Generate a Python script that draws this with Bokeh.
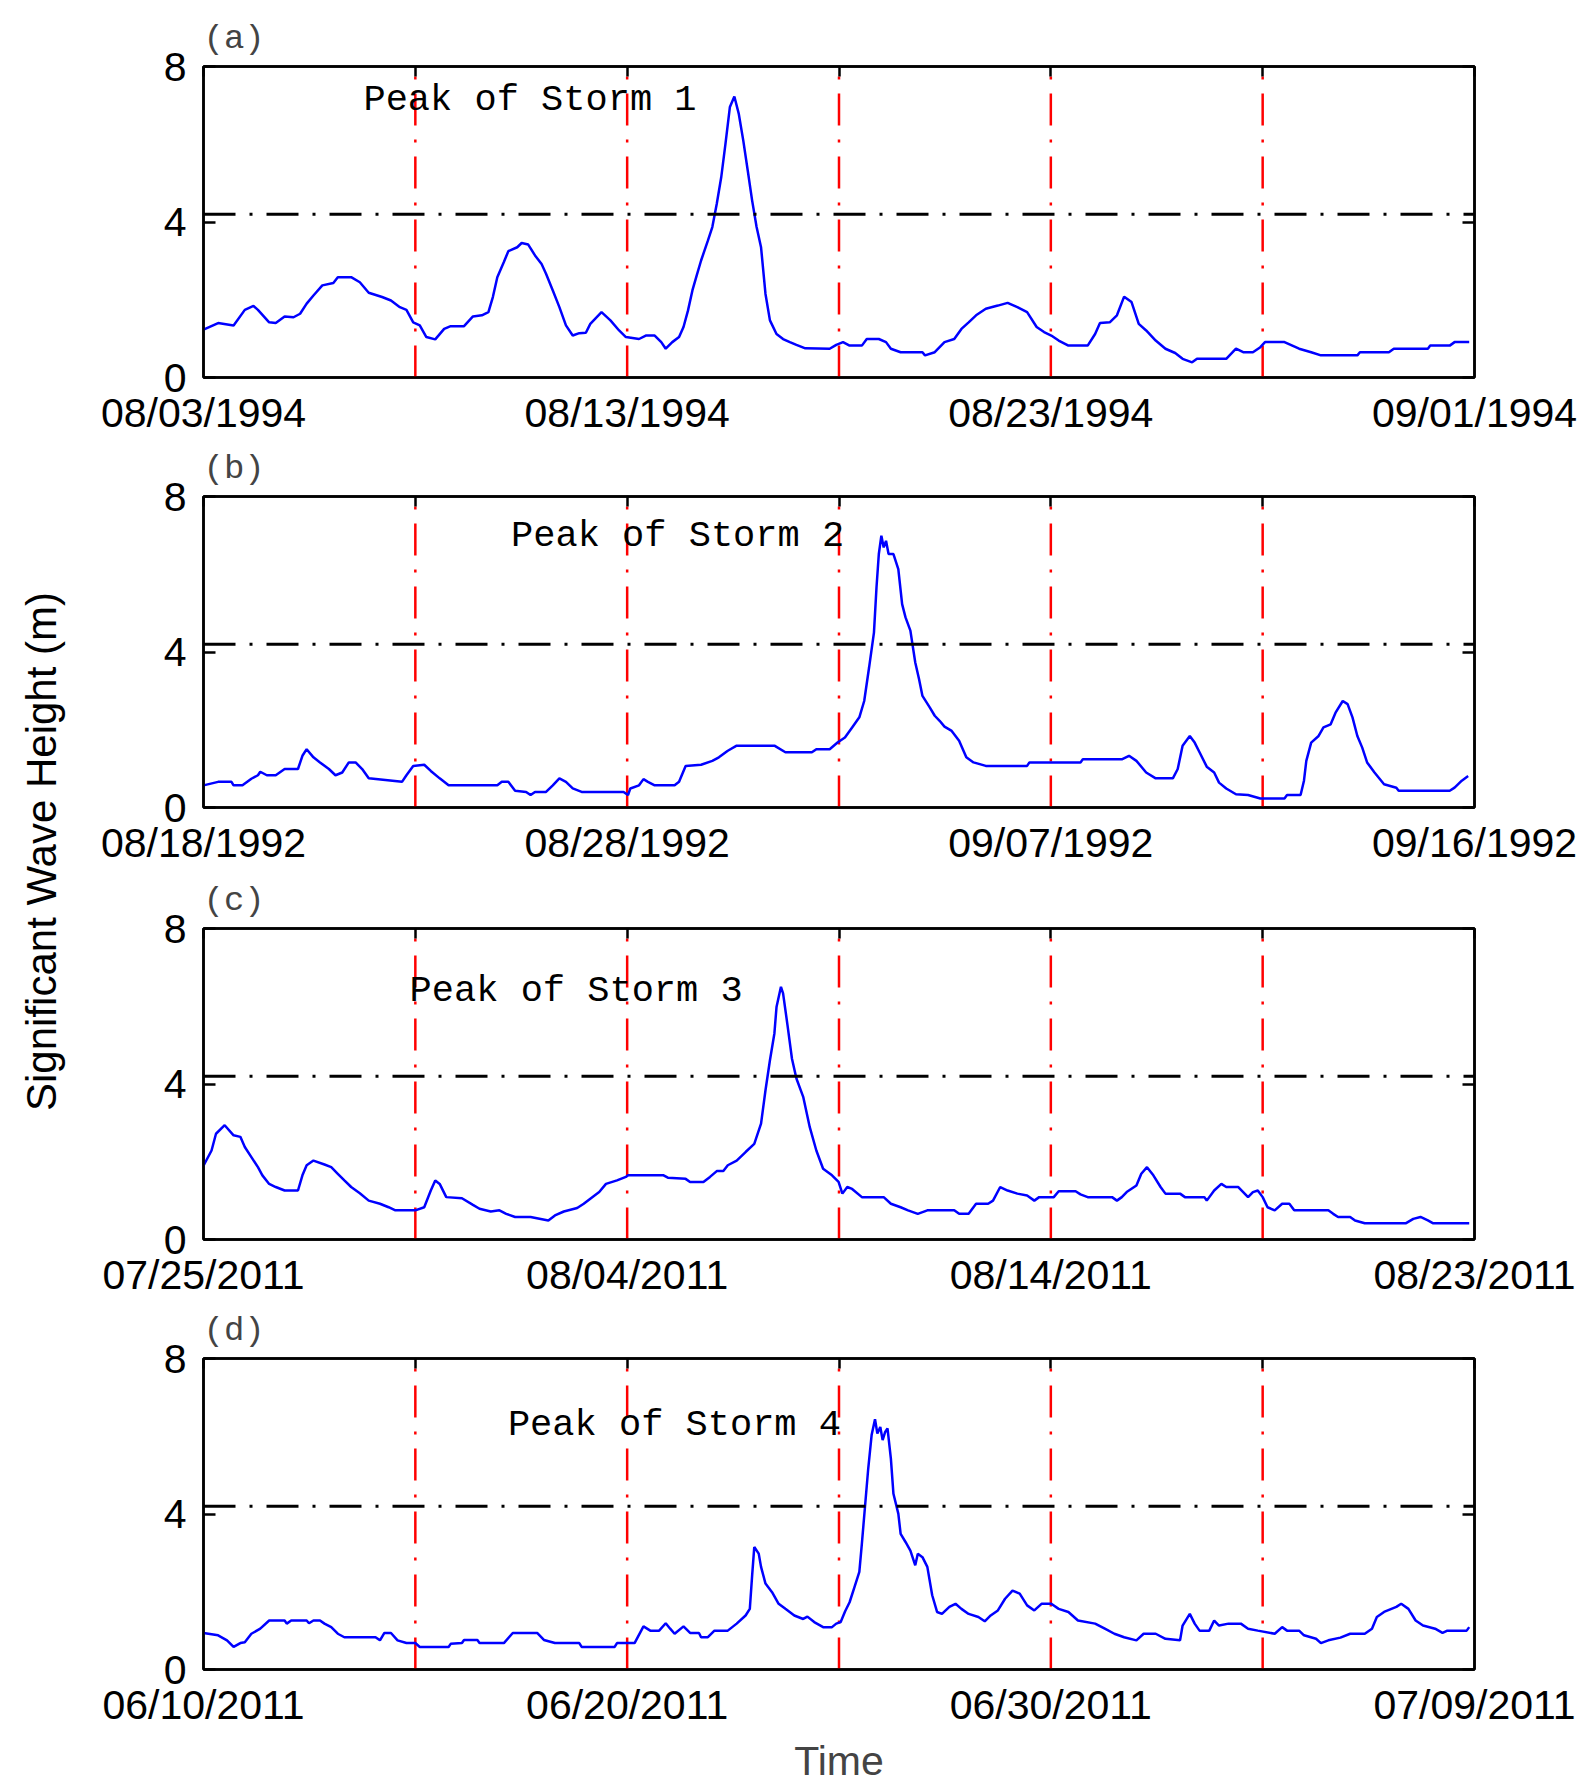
import math
from bokeh.plotting import figure
from bokeh.models import Range1d, LinearAxis, FixedTicker, Span, Label
from bokeh.layouts import row, column
from bokeh.embed import file_html
from bokeh.resources import INLINE

# ---------------- data (time in units of the 6 equal grid intervals of each window) ----------------
t_a = [0.000,0.069,0.142,0.195,0.236,0.257,0.310,0.341,0.383,0.425,0.456,0.487,0.519,0.561,0.613,0.634,0.697,0.738,0.780,0.843,0.885,0.927,0.958,0.990,1.021,1.052,1.094,1.136,1.167,1.230,1.272,1.314,1.345,1.366,1.387,1.418,1.439,1.481,1.502,1.533,1.565,1.596,1.617,1.649,1.680,1.711,1.743,1.774,1.805,1.826,1.879,1.921,1.962,1.994,2.056,2.088,2.130,2.161,2.182,2.213,2.245,2.266,2.287,2.308,2.328,2.349,2.381,2.402,2.423,2.444,2.464,2.485,2.506,2.527,2.548,2.569,2.590,2.611,2.632,2.653,2.674,2.705,2.736,2.768,2.799,2.841,2.956,2.987,3.019,3.050,3.108,3.131,3.188,3.222,3.245,3.291,3.394,3.406,3.452,3.498,3.544,3.578,3.612,3.647,3.693,3.750,3.796,3.842,3.888,3.933,3.968,4.002,4.037,4.083,4.174,4.209,4.232,4.278,4.312,4.346,4.381,4.415,4.450,4.495,4.541,4.587,4.622,4.667,4.690,4.828,4.874,4.908,4.954,4.989,5.011,5.103,5.172,5.229,5.275,5.447,5.459,5.596,5.619,5.780,5.791,5.883,5.906,5.975]
hs_a = [1.23,1.40,1.34,1.74,1.84,1.74,1.42,1.40,1.57,1.55,1.64,1.90,2.11,2.37,2.43,2.58,2.58,2.45,2.18,2.07,1.98,1.81,1.74,1.42,1.34,1.04,0.98,1.25,1.32,1.32,1.57,1.60,1.68,2.07,2.58,2.97,3.25,3.35,3.46,3.42,3.14,2.92,2.67,2.24,1.81,1.34,1.08,1.14,1.15,1.38,1.68,1.47,1.21,1.04,0.99,1.08,1.08,0.91,0.74,0.91,1.04,1.30,1.72,2.24,2.62,3.01,3.52,3.87,4.47,5.15,6.01,6.96,7.23,6.78,6.10,5.33,4.55,3.87,3.35,2.15,1.47,1.12,0.99,0.91,0.84,0.75,0.74,0.84,0.91,0.82,0.82,0.99,0.99,0.91,0.74,0.65,0.65,0.57,0.65,0.91,0.99,1.25,1.42,1.60,1.77,1.85,1.92,1.81,1.68,1.30,1.17,1.08,0.95,0.82,0.82,1.12,1.40,1.42,1.60,2.08,1.94,1.38,1.21,0.95,0.74,0.63,0.48,0.39,0.48,0.48,0.74,0.65,0.65,0.78,0.91,0.91,0.74,0.65,0.57,0.57,0.65,0.65,0.74,0.74,0.82,0.82,0.91,0.91]

t_b = [0.000,0.069,0.132,0.142,0.184,0.226,0.257,0.268,0.299,0.341,0.383,0.446,0.467,0.487,0.519,0.550,0.592,0.623,0.655,0.686,0.718,0.749,0.780,0.937,0.958,0.990,1.042,1.073,1.115,1.157,1.387,1.408,1.439,1.471,1.523,1.544,1.565,1.617,1.649,1.680,1.711,1.743,1.785,1.983,2.004,2.015,2.056,2.077,2.098,2.130,2.224,2.245,2.276,2.349,2.402,2.433,2.475,2.517,2.695,2.747,2.872,2.893,2.956,2.993,3.028,3.062,3.096,3.119,3.142,3.165,3.177,3.188,3.200,3.211,3.222,3.234,3.257,3.280,3.298,3.314,3.337,3.360,3.378,3.394,3.429,3.452,3.475,3.498,3.532,3.567,3.601,3.635,3.693,3.888,3.899,4.140,4.151,4.335,4.369,4.404,4.450,4.495,4.576,4.599,4.622,4.656,4.679,4.702,4.736,4.771,4.794,4.828,4.874,4.931,4.989,5.103,5.115,5.179,5.195,5.206,5.229,5.264,5.287,5.321,5.344,5.378,5.401,5.424,5.447,5.470,5.493,5.528,5.573,5.631,5.642,5.883,5.906,5.940,5.970]
hs_b = [0.57,0.66,0.66,0.57,0.57,0.74,0.83,0.92,0.83,0.83,0.99,0.99,1.33,1.50,1.29,1.16,0.99,0.83,0.90,1.16,1.16,0.99,0.75,0.66,0.83,1.07,1.10,0.94,0.75,0.57,0.57,0.66,0.66,0.43,0.40,0.32,0.40,0.40,0.57,0.75,0.66,0.49,0.40,0.40,0.32,0.49,0.57,0.73,0.66,0.57,0.57,0.66,1.07,1.10,1.20,1.29,1.46,1.59,1.59,1.42,1.42,1.50,1.50,1.67,1.80,2.06,2.32,2.74,3.60,4.50,5.66,6.52,6.99,6.69,6.86,6.52,6.52,6.13,5.23,4.89,4.55,3.73,3.30,2.87,2.57,2.36,2.23,2.08,1.97,1.72,1.29,1.16,1.07,1.07,1.16,1.16,1.24,1.24,1.33,1.20,0.90,0.75,0.75,0.99,1.59,1.84,1.67,1.42,1.05,0.90,0.64,0.49,0.34,0.32,0.23,0.23,0.32,0.32,0.69,1.20,1.67,1.84,2.06,2.14,2.44,2.74,2.66,2.32,1.84,1.54,1.16,0.90,0.60,0.51,0.43,0.43,0.51,0.69,0.81]

t_c = [0.000,0.038,0.059,0.100,0.142,0.174,0.195,0.226,0.257,0.278,0.310,0.341,0.383,0.446,0.467,0.487,0.519,0.571,0.603,0.634,0.665,0.697,0.738,0.780,0.833,0.874,0.906,1.000,1.042,1.073,1.094,1.115,1.146,1.220,1.272,1.303,1.356,1.397,1.429,1.471,1.544,1.628,1.659,1.701,1.764,1.795,1.826,1.868,1.900,1.952,1.994,2.004,2.172,2.192,2.276,2.297,2.360,2.391,2.423,2.454,2.475,2.517,2.559,2.600,2.632,2.653,2.674,2.695,2.705,2.726,2.736,2.757,2.778,2.799,2.831,2.862,2.893,2.925,2.967,2.998,3.016,3.039,3.062,3.108,3.211,3.245,3.291,3.326,3.372,3.417,3.544,3.567,3.612,3.647,3.704,3.727,3.761,3.796,3.842,3.888,3.922,3.945,4.014,4.037,4.117,4.140,4.174,4.289,4.312,4.335,4.358,4.404,4.427,4.454,4.484,4.518,4.541,4.610,4.633,4.725,4.736,4.771,4.805,4.828,4.885,4.908,4.931,4.954,4.977,5.000,5.023,5.057,5.092,5.126,5.149,5.310,5.333,5.356,5.413,5.436,5.482,5.677,5.711,5.745,5.780,5.803,5.975]
hs_c = [1.90,2.29,2.72,2.94,2.68,2.64,2.38,2.12,1.86,1.65,1.43,1.35,1.26,1.26,1.65,1.91,2.03,1.93,1.86,1.69,1.52,1.35,1.19,1.00,0.92,0.83,0.75,0.75,0.83,1.26,1.52,1.43,1.09,1.06,0.89,0.79,0.72,0.75,0.66,0.58,0.58,0.49,0.62,0.72,0.81,0.92,1.05,1.22,1.43,1.52,1.61,1.65,1.65,1.59,1.56,1.48,1.48,1.61,1.76,1.76,1.91,2.03,2.25,2.46,2.98,3.84,4.61,5.30,5.98,6.50,6.33,5.51,4.65,4.14,3.67,2.89,2.29,1.82,1.65,1.48,1.18,1.35,1.30,1.09,1.09,0.92,0.83,0.75,0.66,0.75,0.75,0.66,0.66,0.92,0.92,1.00,1.35,1.26,1.18,1.13,1.00,1.09,1.09,1.24,1.24,1.16,1.09,1.09,1.00,1.09,1.22,1.39,1.69,1.86,1.65,1.35,1.18,1.18,1.09,1.09,1.00,1.26,1.43,1.35,1.35,1.22,1.09,1.22,1.26,1.09,0.83,0.75,0.92,0.92,0.75,0.75,0.66,0.58,0.58,0.49,0.42,0.42,0.53,0.58,0.49,0.42,0.42]

t_d = [0.000,0.069,0.111,0.142,0.174,0.195,0.226,0.268,0.310,0.383,0.393,0.414,0.487,0.498,0.519,0.550,0.571,0.603,0.634,0.665,0.812,0.833,0.854,0.885,0.916,0.958,1.000,1.021,1.157,1.167,1.220,1.230,1.293,1.303,1.418,1.460,1.575,1.607,1.659,1.774,1.785,1.941,1.952,2.035,2.077,2.109,2.151,2.182,2.203,2.224,2.266,2.297,2.339,2.349,2.381,2.412,2.475,2.517,2.559,2.579,2.590,2.600,2.621,2.632,2.653,2.684,2.715,2.747,2.789,2.831,2.851,2.883,2.925,2.967,2.987,3.008,3.029,3.050,3.073,3.096,3.108,3.124,3.138,3.154,3.170,3.181,3.195,3.206,3.218,3.229,3.245,3.257,3.280,3.291,3.314,3.337,3.360,3.372,3.394,3.417,3.440,3.463,3.486,3.521,3.550,3.578,3.612,3.658,3.688,3.716,3.750,3.784,3.819,3.853,3.888,3.922,3.956,4.002,4.037,4.083,4.128,4.209,4.255,4.300,4.346,4.404,4.438,4.495,4.541,4.610,4.622,4.656,4.679,4.702,4.748,4.771,4.794,4.839,4.897,4.931,4.977,5.057,5.092,5.115,5.172,5.195,5.252,5.275,5.310,5.367,5.413,5.482,5.516,5.539,5.573,5.631,5.654,5.688,5.722,5.757,5.814,5.849,5.872,5.963,5.975]
hs_d = [0.94,0.88,0.75,0.58,0.68,0.70,0.92,1.05,1.26,1.26,1.18,1.26,1.26,1.19,1.26,1.26,1.18,1.09,0.92,0.83,0.83,0.75,0.94,0.94,0.75,0.68,0.68,0.58,0.58,0.66,0.68,0.76,0.76,0.68,0.68,0.94,0.94,0.76,0.68,0.68,0.58,0.58,0.68,0.68,1.11,1.00,1.00,1.19,1.05,0.92,1.11,0.94,0.94,0.83,0.83,1.00,1.00,1.18,1.39,1.56,2.42,3.15,2.98,2.64,2.21,1.99,1.69,1.56,1.39,1.30,1.36,1.22,1.09,1.09,1.18,1.22,1.50,1.73,2.12,2.51,3.24,4.27,5.17,6.03,6.44,6.07,6.24,5.90,6.11,6.20,5.42,4.52,4.01,3.49,3.28,3.06,2.68,2.98,2.89,2.64,1.91,1.48,1.43,1.61,1.69,1.56,1.43,1.35,1.24,1.39,1.52,1.82,2.03,1.95,1.65,1.52,1.69,1.69,1.56,1.48,1.26,1.18,1.05,0.92,0.83,0.75,0.92,0.92,0.79,0.75,1.13,1.43,1.18,1.00,1.00,1.26,1.13,1.18,1.18,1.05,1.00,0.92,1.09,1.00,1.00,0.88,0.79,0.68,0.75,0.82,0.92,0.92,1.05,1.35,1.48,1.61,1.69,1.56,1.26,1.13,1.05,0.94,1.00,1.00,1.09]

dates_a = ["08/03/1994", "08/13/1994", "08/23/1994", "09/01/1994"]
dates_b = ["08/18/1992", "08/28/1992", "09/07/1992", "09/16/1992"]
dates_c = ["07/25/2011", "08/04/2011", "08/14/2011", "08/23/2011"]
dates_d = ["06/10/2011", "06/20/2011", "06/30/2011", "07/09/2011"]
panel_letters = ["(a)", "(b)", "(c)", "(d)"]
peak_texts = ["Peak of Storm 1", "Peak of Storm 2", "Peak of Storm 3", "Peak of Storm 4"]
peak_x = [0.755, 1.452, 0.973, 1.437]
peak_y = [7.14, 6.98, 6.38, 6.30]

all_ticks = [0, 1, 2, 3, 4, 5, 6]
label_ticks = [0, 2, 4, 6]
grid_lines = [1, 2, 3, 4, 5]
y_ticks = [0, 4, 8]
threshold = 4.2

DASHDOT = "32 14 3 14"
TICK_FONT = "Liberation Sans"
MAIN_W = 1501
STRIP_W = 78


def make_panel(t, hs, dates, letter, ptext, px, py, height, top, bottom, time_label=False):
    p = figure(width=MAIN_W, height=height, x_range=Range1d(0, 6), y_range=Range1d(0, 8),
               x_axis_type=None, y_axis_type=None, output_backend="svg", toolbar_location=None,
               min_border_left=125, min_border_right=105, min_border_top=top, min_border_bottom=bottom)
    p.outline_line_color = "black"
    p.outline_line_width = 2.5
    p.background_fill_color = "white"
    p.border_fill_color = "white"

    # panel letter as the plot title, left aligned on the frame
    p.title.text = letter
    p.title.text_font = "Liberation Mono"
    p.title.text_font_size = "34px"
    p.title.text_font_style = "normal"
    p.title.align = "left"
    p.title.standoff = 17

    bottom_ax = LinearAxis(ticker=FixedTicker(ticks=label_ticks),
                           major_label_overrides={k: d for k, d in zip(label_ticks, dates)},
                           major_tick_in=0, major_tick_out=0, minor_tick_in=0, minor_tick_out=0,
                           axis_line_width=2.5, major_label_standoff=12,
                           major_label_text_font=TICK_FONT, major_label_text_font_size="41px",
                           major_label_text_color="black")
    if time_label:
        bottom_ax.axis_label = "Time"
        bottom_ax.axis_label_text_font = "Liberation Sans"
        bottom_ax.axis_label_text_font_size = "41px"
        bottom_ax.axis_label_text_font_style = "normal"
        bottom_ax.axis_label_standoff = 7
    p.add_layout(bottom_ax, "below")

    top_ax = LinearAxis(ticker=FixedTicker(ticks=all_ticks), major_tick_in=10, major_tick_out=0,
                        minor_tick_in=0, minor_tick_out=0, major_tick_line_width=2.5,
                        axis_line_width=2.5, major_label_text_font_size="1px",
                        major_label_text_color=None, major_label_standoff=0)
    p.add_layout(top_ax, "above")

    left_ax = LinearAxis(ticker=FixedTicker(ticks=y_ticks), major_tick_in=12, major_tick_out=0,
                         minor_tick_in=0, minor_tick_out=0, major_tick_line_width=2.5,
                         axis_line_width=2.5, major_label_standoff=17,
                         major_label_text_font=TICK_FONT, major_label_text_font_size="41px",
                         major_label_text_color="black")
    p.add_layout(left_ax, "left")

    right_ax = LinearAxis(ticker=FixedTicker(ticks=y_ticks), major_tick_in=12, major_tick_out=0,
                          minor_tick_in=0, minor_tick_out=0, major_tick_line_width=2.5,
                          axis_line_width=2.5, major_label_text_font_size="1px",
                          major_label_text_color=None, major_label_standoff=0)
    p.add_layout(right_ax, "right")

    # red dash-dot vertical lines
    p.segment(x0=grid_lines, y0=[0] * len(grid_lines), x1=grid_lines, y1=[8] * len(grid_lines),
              line_color="#ff0000", line_width=2.5, line_dash=DASHDOT)
    # significant wave height series
    p.line(t, hs, line_color="#0000ff", line_width=2.5)
    # storm threshold
    p.add_layout(Span(location=threshold, dimension="width", line_color="black",
                      line_width=3, line_dash=DASHDOT))
    p.add_layout(Label(x=px, y=py, text=ptext, text_font="Liberation Mono", text_font_size="37px",
                       text_baseline="alphabetic", text_align="left", text_color="black"))
    return p


pa = make_panel(t_a, hs_a, dates_a, panel_letters[0], peak_texts[0], peak_x[0], peak_y[0], 438, 66, 61)
pb = make_panel(t_b, hs_b, dates_b, panel_letters[1], peak_texts[1], peak_x[1], peak_y[1], 432, 58, 63)
pc = make_panel(t_c, hs_c, dates_c, panel_letters[2], peak_texts[2], peak_x[2], peak_y[2], 430, 58, 61)
pd = make_panel(t_d, hs_d, dates_d, panel_letters[3], peak_texts[3], peak_x[3], peak_y[3], 488, 58, 119, True)

TOTAL_H = 438 + 432 + 430 + 488
strip = figure(width=STRIP_W, height=TOTAL_H, x_range=Range1d(0, STRIP_W), y_range=Range1d(0, TOTAL_H),
               x_axis_type=None, y_axis_type=None, output_backend="svg", toolbar_location=None,
               title=None, min_border=0)
strip.outline_line_color = None
strip.grid.visible = False
strip.add_layout(Label(x=41, y=TOTAL_H - 851, text="Significant Wave Height (m)", angle=math.pi / 2,
                       text_align="center", text_baseline="middle", text_font="Liberation Sans",
                       text_font_size="42px", text_color="black"))

layout = row(strip, column(pa, pb, pc, pd))
open("out.html", "w").write(file_html(layout, INLINE))
